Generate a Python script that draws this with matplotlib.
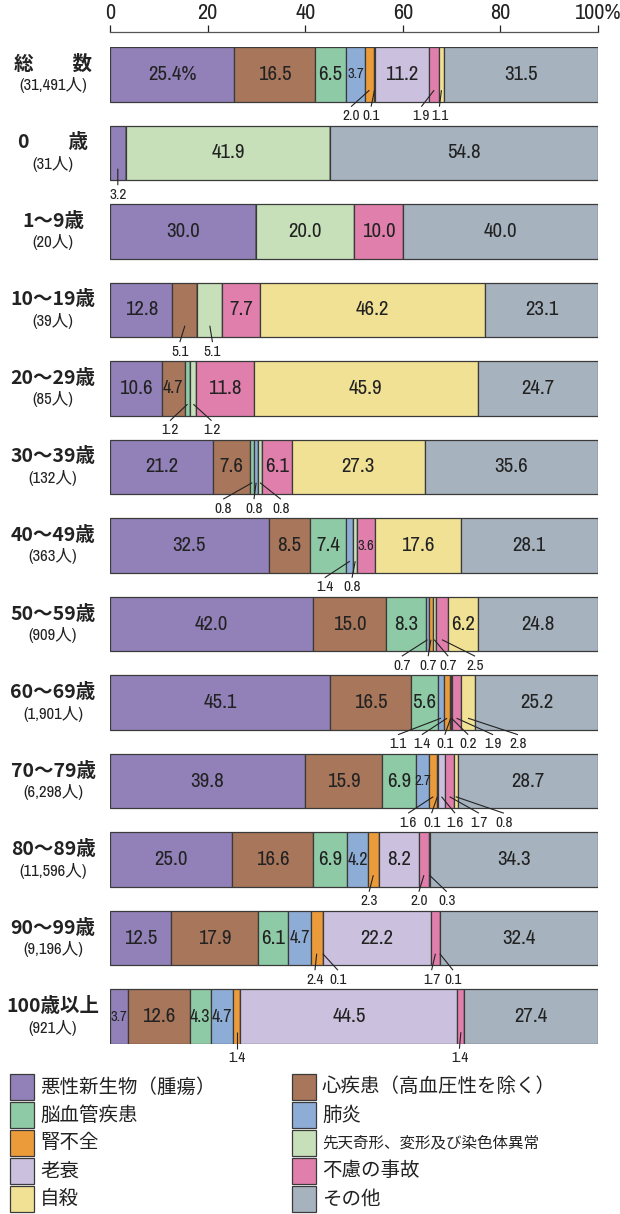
import matplotlib
matplotlib.use('Agg')
import matplotlib.pyplot as plt
from matplotlib.patches import Rectangle
import numpy as np

plt.rcParams['font.family'] = ['Noto Sans CJK JP', 'DejaVu Sans']
NUM_FONT = ['Archivo Narrow', 'Noto Sans CJK JP', 'DejaVu Sans']

# causes of death (legend order)
causes = ['悪性新生物（腫瘍）', '心疾患（高血圧性を除く）', '脳血管疾患', '肺炎', '腎不全',
          '先天奇形、変形及び染色体異常', '老衰', '不慮の事故', '自殺', 'その他']
colors = ['#9181b8', '#a8765a', '#8ecaa6', '#8eadd6', '#ec9b3b',
          '#c7e0b9', '#cbc1de', '#e07fac', '#f0e195', '#a6b3bf']

groups = ['総　　数', '0　　歳', '1～9歳', '10～19歳', '20～29歳', '30～39歳', '40～49歳',
          '50～59歳', '60～69歳', '70～79歳', '80～89歳', '90～99歳', '100歳以上']
counts = ['(31,491人)', '(31人)', '(20人)', '(39人)', '(85人)', '(132人)', '(363人)',
          '(909人)', '(1,901人)', '(6,298人)', '(11,596人)', '(9,196人)', '(921人)']

malignant  = [25.4, 3.2, 30.0, 12.8, 10.6, 21.2, 32.5, 42.0, 45.1, 39.8, 25.0, 12.5, 3.7]
heart      = [16.5, 0, 0, 5.1, 4.7, 7.6, 8.5, 15.0, 16.5, 15.9, 16.6, 17.9, 12.6]
cerebro    = [6.5, 0, 0, 0, 1.2, 0.8, 7.4, 8.3, 5.6, 6.9, 6.9, 6.1, 4.3]
pneumonia  = [3.7, 0, 0, 0, 0, 0.8, 1.4, 0.7, 1.1, 2.7, 4.2, 4.7, 4.7]
renal      = [2.0, 0, 0, 0, 0, 0, 0, 0.7, 1.4, 1.6, 2.3, 2.4, 1.4]
congenital = [0.1, 41.9, 20.0, 5.1, 1.2, 0.8, 0.8, 0.7, 0.1, 0.1, 0, 0.1, 0]
senility   = [11.2, 0, 0, 0, 0, 0, 0, 0, 0.2, 1.6, 8.2, 22.2, 44.5]
accident   = [1.9, 0, 10.0, 7.7, 11.8, 6.1, 3.6, 2.5, 1.9, 1.7, 2.0, 1.7, 1.4]
suicide    = [1.1, 0, 0, 46.2, 45.9, 27.3, 17.6, 6.2, 2.8, 0.8, 0.3, 0.1, 0]
other      = [31.5, 54.8, 40.0, 23.1, 24.7, 35.6, 28.1, 24.8, 25.2, 28.7, 34.3, 32.4, 27.4]

series = [malignant, heart, cerebro, pneumonia, renal, congenital, senility, accident, suicide, other]

# small segments labelled below the bar: row -> [(cause index, label x in %)]
below = {
    0: [(4, 49.4), (5, 53.5), (7, 63.8), (8, 67.5)],
    1: [(0, 1.6)],
    3: [(1, 14.3), (5, 21.0)],
    4: [(2, 12.3), (5, 20.8)],
    5: [(2, 23.2), (3, 29.5), (5, 35.0)],
    6: [(3, 44.0), (5, 49.6)],
    7: [(3, 59.8), (4, 65.2), (5, 69.3), (7, 74.8)],
    8: [(3, 59.0), (4, 63.9), (5, 68.6), (6, 73.4), (7, 78.5), (8, 83.6)],
    9: [(4, 61.1), (5, 65.9), (6, 70.7), (7, 75.6), (8, 80.7)],
    10: [(4, 53.1), (7, 63.3), (8, 69.0)],
    11: [(4, 42.0), (5, 46.7), (7, 65.9), (8, 70.3)],
    12: [(4, 26.0), (7, 71.6)],
}

data = np.array(series, dtype=float)          # causes x groups
scaled = data / data.sum(axis=0) * 100        # drawn widths normalised to 100%
n = len(groups)
y = np.arange(n)
bar_h = 0.70

fig = plt.figure(figsize=(6.2, 12.14), dpi=100)
ax = fig.add_axes([110 / 620, 1 - 1044 / 1214, 488 / 620, (1044 - 47) / 1214])

left = np.zeros(n)
for k in range(len(causes)):
    ax.barh(y, scaled[k], left=left, height=bar_h, color=colors[k],
            edgecolor='#3a3a3a', linewidth=0.9)
    left += scaled[k]

starts = np.vstack([np.zeros(n), np.cumsum(scaled, axis=0)[:-1]])

for i in range(n):
    skip = {c for c, _ in below.get(i, [])}
    for k in range(len(causes)):
        v = data[k, i]
        if v == 0 or k in skip:
            continue
        cx = starts[k, i] + scaled[k, i] / 2
        txt = f'{v:.1f}'
        if i == 0 and k == 0:
            txt += '%'
        fs = 15 if v >= 5.0 else (13 if v >= 4.0 else 10.5)
        ax.text(cx, i, txt, ha='center', va='center', fontsize=fs,
                family=NUM_FONT, color='#222222')
    for k, lx in below.get(i, []):
        cx = starts[k, i] + scaled[k, i] / 2
        ax.plot([cx, lx], [i + 0.20, i + 0.41], color='#222222', lw=0.8,
                clip_on=False, solid_capstyle='butt')
        ax.text(lx, i + 0.53, f'{data[k, i]:.1f}', ha='center', va='center',
                fontsize=11, family=NUM_FONT, color='#222222', clip_on=False)

ax.set_xlim(0, 100)
ax.set_ylim(n - 1 + bar_h / 2, -bar_h / 2)
ax.set_yticks([])
ax.xaxis.tick_top()
ax.set_xticks([0, 20, 40, 60, 80, 100])
ax.set_xticklabels(['0', '20', '40', '60', '80', '100%'])
ax.tick_params(axis='x', direction='out', length=5, width=0.9, pad=1, colors='#222222',
               labelsize=16, labelfontfamily='Archivo Narrow')
for s in ['left', 'right', 'bottom']:
    ax.spines[s].set_visible(False)
ax.spines['top'].set_position(('outward', 11))
ax.spines['top'].set_linewidth(0.9)
ax.spines['top'].set_color('#555555')

# group labels
for i in range(n):
    yc = ax.transData.transform((0, i))[1] / fig.dpi / 12.14
    fig.text(53 / 620, yc + 10 / 1214, groups[i], ha='center', va='center',
             fontsize=14, fontweight='bold', color='#222222')
    fig.text(53 / 620, yc - 11 / 1214, counts[i], ha='center', va='center',
             fontsize=12, color='#222222', family=NUM_FONT)

# legend in two columns
for k, name in enumerate(causes):
    r, c = divmod(k, 2)
    x0 = (10 if c == 0 else 292) / 620
    yc = 1 - (1087 + r * 28) / 1214
    fig.patches.append(Rectangle((x0, yc - 13 / 1214), 24 / 620, 26 / 1214,
                                 transform=fig.transFigure, facecolor=colors[k],
                                 edgecolor='#3a3a3a', linewidth=0.9))
    fs = 11.2 if k == 5 else 14
    fig.text(x0 + 30 / 620, yc, name, ha='left', va='center', fontsize=fs, color='#222222')

fig.savefig('out.png', dpi=100)
plt.close(fig)
